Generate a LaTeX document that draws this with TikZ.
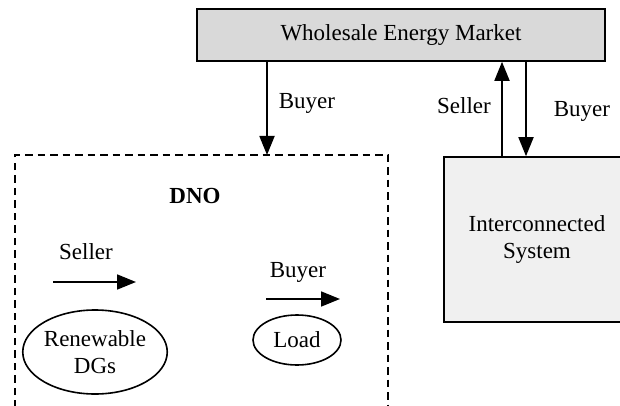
\documentclass[tikz,border=0pt]{standalone}
\usepackage{fontspec}
\setmainfont{Liberation Serif}
\usetikzlibrary{shapes.geometric,arrows.meta}
\definecolor{marketgray}{RGB}{217,217,217}
\definecolor{icgray}{RGB}{240,240,240}
\begin{document}
\begin{tikzpicture}[x=1pt,y=-1pt, line width=1.6pt,
	every node/.style={font=\fontsize{23}{27}\selectfont},
	flow/.style={line width=1.8pt,-{Triangle[length=19pt,width=15pt]}},
	blob/.style={draw,ellipse,inner sep=0pt,align=center}]
		\clip (0,0) rectangle (620,406);
		% market
		\node[draw,fill=marketgray,minimum width=408,minimum height=52] (market) at (401,35) {Wholesale Energy Market};
		% interconnected system
		\node[draw,fill=icgray,minimum width=186,minimum height=165,align=center] (ic) at (537,239.5) {Interconnected\\System};
		% DNO area
		\coordinate (dnoin) at (267,155);
		\draw[line width=2pt,dash pattern=on 7.5pt off 5pt] (15,420) -- (15,155) -- (388,155) -- (388,420);
		\node[font=\fontsize{23}{27}\selectfont\bfseries] (dno) at (195,196) {DNO};
		% DGs and load
		\node[blob,minimum width=136,minimum height=84] (dgs) at (95,352) {Renewable\\DGs};
		\node[blob,minimum width=88,minimum height=50] (load) at (297,340) {Load};
		\coordinate (sa) at (53,282);
		\coordinate (sb) at (136,282);
		\coordinate (ba) at (266,299);
		\coordinate (bb) at (340,299);
		\node (sellerdg) at (86,252) {Seller};
		\node (buyerload) at (298,272) {Buyer};
		\draw[flow] (sa) -- (sb);
		\draw[flow] (ba) -- (bb);
		% market links
		\draw[flow] (market.south -| dnoin) -- (dnoin);
		\draw[flow] (ic.north -| 502,0) -- (market.south -| 502,0);
		\draw[flow] (market.south -| 526,0) -- (ic.north -| 526,0);
		\node (buyerdno) at (307,103) {Buyer};
		\node (selleric) at (464,106) {Seller};
		\node (buyeric) at (582,111) {Buyer};
\end{tikzpicture}
\end{document}
